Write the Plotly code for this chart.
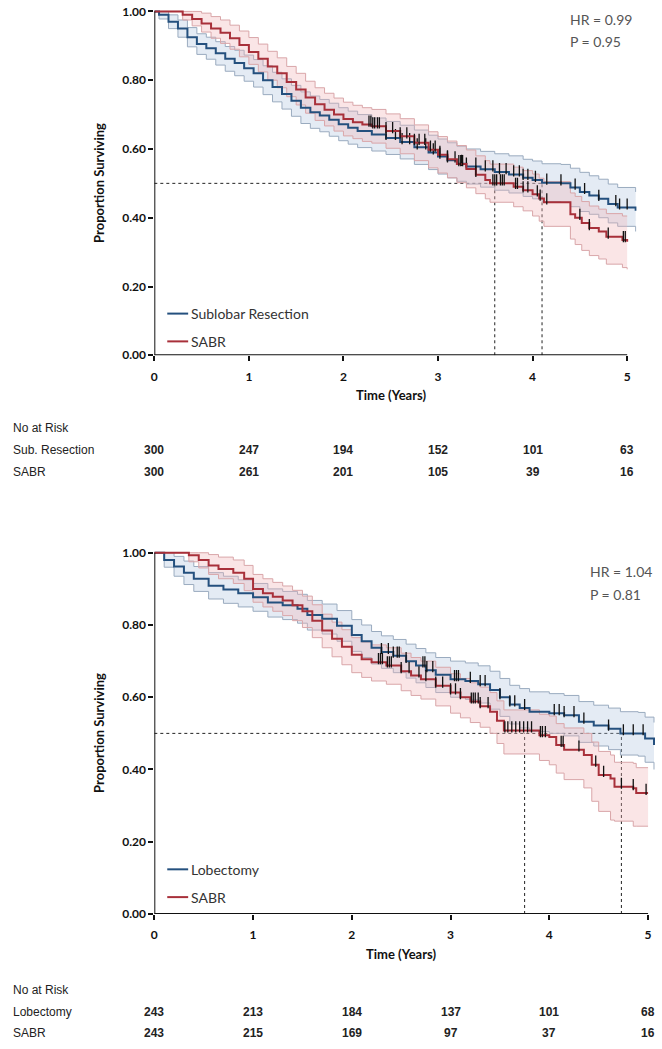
import numpy as np
import plotly.graph_objects as go

# ---------------- DATA ----------------
# Top panel: Sublobar Resection vs SABR
T_SUB = [0, 0.05, 0.15, 0.25, 0.35, 0.45, 0.55, 0.65, 0.75, 0.85,
         0.95, 1.05, 1.15, 1.25, 1.35, 1.45, 1.55, 1.65, 1.75, 1.85,
         1.95, 2.05, 2.15, 2.3, 2.45, 2.6, 2.75, 2.9, 3.0, 3.1,
         3.2, 3.3, 3.45, 3.6, 3.75, 3.9, 4.0, 4.1, 4.3, 4.4,
         4.5, 4.6, 4.7, 4.8, 4.9, 5.09]
S_SUB = [1.0, 0.99, 0.97, 0.95, 0.925, 0.905, 0.893, 0.878, 0.862, 0.85,
         0.835, 0.82, 0.80, 0.78, 0.76, 0.74, 0.72, 0.707, 0.697, 0.685,
         0.672, 0.662, 0.652, 0.642, 0.632, 0.62, 0.605, 0.59, 0.578, 0.567,
         0.557, 0.549, 0.541, 0.533, 0.526, 0.516, 0.51, 0.502, 0.50, 0.488,
         0.475, 0.465, 0.455, 0.44, 0.43, 0.42]
HI_SUB = [1.0, 1.0, 0.99, 0.975, 0.953, 0.935, 0.925, 0.912, 0.898, 0.887,
          0.873, 0.86, 0.842, 0.823, 0.804, 0.785, 0.766, 0.754, 0.744, 0.733,
          0.72, 0.71, 0.7, 0.69, 0.68, 0.669, 0.655, 0.64, 0.629, 0.618,
          0.608, 0.6, 0.593, 0.586, 0.58, 0.57, 0.565, 0.557, 0.555, 0.544,
          0.532, 0.522, 0.512, 0.498, 0.488, 0.475]
LO_SUB = [1.0, 0.978, 0.95, 0.925, 0.897, 0.875, 0.861, 0.844, 0.826, 0.813,
          0.797, 0.78, 0.758, 0.737, 0.716, 0.695, 0.674, 0.66, 0.65, 0.637,
          0.624, 0.614, 0.604, 0.594, 0.584, 0.571, 0.555, 0.54, 0.527, 0.516,
          0.506, 0.498, 0.489, 0.48, 0.472, 0.462, 0.455, 0.447, 0.445, 0.432,
          0.418, 0.41, 0.4, 0.385, 0.375, 0.36]
C_SUB = [2.45, 2.55, 2.62, 2.7, 2.78, 2.87, 2.95, 3.02, 3.1, 3.18, 3.25, 3.3,
         3.4, 3.5, 3.58, 3.65, 3.72, 3.8, 3.86, 3.9, 3.95, 4.03, 4.15, 4.3,
         4.45, 4.55, 4.7, 4.88, 4.92, 5.0]

T_SABR1 = [0, 0.3, 0.4, 0.5, 0.6, 0.7, 0.8, 0.9, 1.0, 1.1,
           1.2, 1.3, 1.4, 1.5, 1.6, 1.7, 1.8, 1.9, 2.0, 2.1,
           2.2, 2.3, 2.45, 2.6, 2.75, 2.9, 3.0, 3.1, 3.2, 3.3,
           3.4, 3.5, 3.55, 3.8, 3.9, 4.0, 4.07, 4.12, 4.4, 4.45,
           4.52, 4.6, 4.7, 4.78, 4.95, 5.0]
S_SABR1 = [1.0, 0.99, 0.978, 0.965, 0.95, 0.938, 0.922, 0.902, 0.882, 0.862,
           0.84, 0.82, 0.795, 0.773, 0.75, 0.73, 0.714, 0.7, 0.687, 0.678,
           0.671, 0.666, 0.652, 0.637, 0.618, 0.598, 0.583, 0.57, 0.556, 0.542,
           0.525, 0.51, 0.50, 0.49, 0.48, 0.468, 0.456, 0.445, 0.41, 0.40,
           0.385, 0.37, 0.36, 0.345, 0.335, 0.33]
HI_SABR1 = [1.0, 1.0, 1.0, 0.995, 0.985, 0.975, 0.96, 0.943, 0.924, 0.905,
            0.884, 0.865, 0.84, 0.82, 0.797, 0.778, 0.762, 0.748, 0.736, 0.727,
            0.72, 0.715, 0.702, 0.688, 0.67, 0.65, 0.636, 0.623, 0.61, 0.597,
            0.58, 0.566, 0.556, 0.547, 0.537, 0.527, 0.515, 0.505, 0.472, 0.462,
            0.447, 0.434, 0.425, 0.412, 0.405, 0.405]
LO_SABR1 = [1.0, 0.975, 0.958, 0.94, 0.922, 0.907, 0.89, 0.868, 0.846, 0.824,
            0.8, 0.778, 0.752, 0.728, 0.704, 0.683, 0.667, 0.652, 0.638, 0.63,
            0.622, 0.617, 0.602, 0.586, 0.566, 0.545, 0.53, 0.516, 0.502, 0.487,
            0.47, 0.455, 0.445, 0.432, 0.42, 0.405, 0.39, 0.375, 0.338, 0.322,
            0.305, 0.29, 0.28, 0.265, 0.255, 0.25]
C_SABR1 = [2.27, 2.29, 2.31, 2.33, 2.36, 2.38, 2.45, 2.52, 2.6, 2.67, 2.75,
           2.8, 2.86, 2.92, 2.97, 3.02, 3.1, 3.22, 3.24, 3.26, 3.4, 3.58, 3.6,
           3.62, 3.66, 3.68, 3.7, 3.82, 3.84, 3.9, 3.95, 4.05, 4.08, 4.15,
           4.5, 4.6, 4.8, 4.96, 4.98]

# Bottom panel: Lobectomy vs SABR
T_LOB = [0, 0.1, 0.2, 0.3, 0.4, 0.55, 0.7, 0.85, 1.0, 1.15,
         1.3, 1.45, 1.55, 1.7, 1.85, 2.0, 2.1, 2.2, 2.3, 2.42,
         2.55, 2.65, 2.75, 2.85, 3.0, 3.15, 3.28, 3.4, 3.5, 3.6,
         3.7, 3.8, 4.0, 4.15, 4.3, 4.45, 4.6, 4.72, 4.9, 4.97, 5.06]
S_LOB = [1.0, 0.98, 0.962, 0.945, 0.928, 0.909, 0.898, 0.888, 0.877, 0.862,
         0.855, 0.845, 0.828, 0.817, 0.798, 0.772, 0.755, 0.737, 0.725, 0.715,
         0.70, 0.688, 0.675, 0.662, 0.65, 0.645, 0.636, 0.62, 0.60, 0.58,
         0.57, 0.56, 0.556, 0.55, 0.532, 0.522, 0.513, 0.50, 0.50, 0.486, 0.468]
HI_LOB = [1.0, 1.0, 0.99, 0.977, 0.962, 0.945, 0.935, 0.925, 0.915, 0.9,
          0.893, 0.885, 0.868, 0.858, 0.84, 0.815, 0.8, 0.782, 0.77, 0.76,
          0.747, 0.735, 0.723, 0.71, 0.7, 0.695, 0.687, 0.672, 0.652, 0.633,
          0.624, 0.615, 0.61, 0.605, 0.588, 0.578, 0.57, 0.56, 0.558, 0.545, 0.53]
LO_LOB = [1.0, 0.96, 0.935, 0.912, 0.893, 0.872, 0.86, 0.85, 0.838, 0.822,
          0.815, 0.805, 0.786, 0.775, 0.755, 0.727, 0.71, 0.692, 0.68, 0.668,
          0.653, 0.64, 0.627, 0.613, 0.6, 0.594, 0.584, 0.567, 0.547, 0.526,
          0.515, 0.505, 0.5, 0.493, 0.475, 0.465, 0.455, 0.44, 0.437, 0.42, 0.40]
C_LOB = [2.3, 2.37, 2.42, 2.46, 2.48, 2.55, 2.72, 2.74, 2.76, 2.82, 3.04,
         3.06, 3.08, 3.2, 3.3, 3.35, 3.5, 3.6, 3.65, 3.75, 4.05, 4.1, 4.15,
         4.25, 4.35, 4.6, 4.75, 4.85, 4.95]

T_SABR2 = [0, 0.35, 0.45, 0.55, 0.65, 0.8, 0.91, 1.0, 1.1, 1.2,
           1.3, 1.4, 1.5, 1.6, 1.7, 1.8, 1.9, 2.0, 2.1, 2.2,
           2.35, 2.5, 2.6, 2.7, 2.85, 3.0, 3.1, 3.2, 3.3, 3.4,
           3.47, 3.54, 3.9, 4.0, 4.07, 4.15, 4.35, 4.43, 4.5, 4.62,
           4.66, 4.85, 4.88, 5.0]
S_SABR2 = [1.0, 0.993, 0.98, 0.965, 0.955, 0.945, 0.928, 0.9, 0.888, 0.878,
           0.868, 0.855, 0.838, 0.812, 0.785, 0.762, 0.74, 0.718, 0.705, 0.697,
           0.688, 0.672, 0.66, 0.65, 0.632, 0.613, 0.6, 0.588, 0.575, 0.56,
           0.535, 0.508, 0.495, 0.49, 0.468, 0.455, 0.44, 0.413, 0.385, 0.375,
           0.352, 0.348, 0.335, 0.335]
HI_SABR2 = [1.0, 1.0, 1.0, 0.995, 0.988, 0.98, 0.965, 0.94, 0.928, 0.918,
            0.908, 0.896, 0.88, 0.856, 0.83, 0.808, 0.787, 0.765, 0.753, 0.745,
            0.737, 0.722, 0.71, 0.7, 0.683, 0.665, 0.652, 0.64, 0.628, 0.613,
            0.59, 0.565, 0.553, 0.548, 0.527, 0.515, 0.5, 0.476, 0.45, 0.44,
            0.42, 0.417, 0.405, 0.405]
LO_SABR2 = [1.0, 0.975, 0.958, 0.94, 0.928, 0.915, 0.895, 0.863, 0.85, 0.838,
            0.826, 0.812, 0.793, 0.765, 0.737, 0.712, 0.69, 0.668, 0.655, 0.645,
            0.636, 0.618, 0.605, 0.595, 0.576, 0.556, 0.543, 0.53, 0.517, 0.5,
            0.472, 0.443, 0.425, 0.413, 0.39, 0.372, 0.349, 0.312, 0.284, 0.26,
            0.257, 0.243, 0.243, 0.243]
C_SABR2 = [2.27, 2.29, 2.31, 2.36, 2.38, 2.4, 2.5, 2.58, 2.68, 2.75, 2.85,
           2.92, 3.0, 3.05, 3.1, 3.21, 3.23, 3.25, 3.28, 3.3, 3.38, 3.55, 3.58,
           3.62, 3.66, 3.7, 3.74, 3.78, 3.82, 3.91, 3.93, 3.96, 4.12, 4.14,
           4.3, 4.47, 4.55, 4.73, 4.85, 4.98]

MEDIANS_TOP = [3.6, 4.1]
MEDIANS_BOT = [3.75, 4.73]

RISK_TIMES = [0, 1, 2, 3, 4, 5]
RISK_SUB = [300, 247, 194, 152, 101, 63]
RISK_SABR1 = [300, 261, 201, 105, 39, 16]
RISK_LOB = [243, 213, 184, 137, 101, 68]
RISK_SABR2 = [243, 215, 169, 97, 37, 16]

STATS_TOP = ["HR = 0.99", "P = 0.95"]
STATS_BOT = ["HR = 1.04", "P = 0.81"]

# ---------------- STYLE ----------------
W, H = 662, 1049
BLUE = "#24507e"
RED = "#a8303a"
BLUE_EDGE = "#9aabbf"
RED_EDGE = "#d9a6a9"
BLUE_FILL = "rgba(176,196,222,0.34)"
RED_FILL = "rgba(240,180,182,0.34)"
TICKFONT = dict(family="Lato, Open Sans, sans-serif", size=12, color="#111", weight="bold")
TXT = "Lato, Open Sans, sans-serif"
TABLEFONT = "Liberation Sans Narrow, Arial Narrow, Liberation Sans, Arial, sans-serif"


def px_x(p):
    return p / W


def px_y(p):
    return 1 - p / H


def step_at(ts, ss, t):
    i = int(np.searchsorted(np.asarray(ts), t, side="right")) - 1
    return ss[max(i, 0)]


fig = go.Figure()

PANELS = [
    dict(xa="x", ya="y", x0=152, x5=627, y1=10.5, y0=357),
    dict(xa="x2", ya="y2", x0=152, x5=648, y1=556, y0=920),
]
XMAX, YMAX = 5.1, 1.02


def add_band(xa, ya, t, hi, lo, edge, fill):
    fig.add_trace(go.Scatter(x=t, y=hi, mode="lines", line=dict(color=edge, width=1, shape="hv"),
                             xaxis=xa, yaxis=ya, hoverinfo="skip", showlegend=False))
    fig.add_trace(go.Scatter(x=t, y=lo, mode="lines", line=dict(color=edge, width=1, shape="hv"),
                             fill="tonexty", fillcolor=fill,
                             xaxis=xa, yaxis=ya, hoverinfo="skip", showlegend=False))


def add_line(xa, ya, t, s, cens, col):
    fig.add_trace(go.Scatter(x=t, y=s, mode="lines", line=dict(color=col, width=2, shape="hv"),
                             xaxis=xa, yaxis=ya, showlegend=False))
    cy = [step_at(t, s, c) + 0.01 for c in cens]
    fig.add_trace(go.Scatter(x=cens, y=cy, mode="markers",
                             marker=dict(symbol="line-ns", size=8, line=dict(color="#111", width=1.3)),
                             xaxis=xa, yaxis=ya, showlegend=False))


add_band("x", "y", T_SUB, HI_SUB, LO_SUB, BLUE_EDGE, BLUE_FILL)
add_band("x", "y", T_SABR1, HI_SABR1, LO_SABR1, RED_EDGE, RED_FILL)
add_line("x", "y", T_SUB, S_SUB, C_SUB, BLUE)
add_line("x", "y", T_SABR1, S_SABR1, C_SABR1, RED)
add_band("x2", "y2", T_LOB, HI_LOB, LO_LOB, BLUE_EDGE, BLUE_FILL)
add_band("x2", "y2", T_SABR2, HI_SABR2, LO_SABR2, RED_EDGE, RED_FILL)
add_line("x2", "y2", T_LOB, S_LOB, C_LOB, BLUE)
add_line("x2", "y2", T_SABR2, S_SABR2, C_SABR2, RED)

layout = dict(width=W, height=H, margin=dict(l=0, r=0, t=0, b=0),
              paper_bgcolor="white", plot_bgcolor="white", showlegend=False)

shapes, annos = [], []
for k, P in enumerate(PANELS):
    xs = "" if k == 0 else "2"
    pxyr = (P["x5"] - P["x0"]) / 5.0
    pxun = (P["y0"] - P["y1"])
    dom_x = [px_x(P["x0"]), px_x(P["x0"] + XMAX * pxyr)]
    dom_y = [px_y(P["y0"]), px_y(P["y0"] - YMAX * pxun)]
    layout["xaxis" + xs] = dict(domain=dom_x, range=[0, XMAX], anchor="y" + xs,
                                tickvals=RISK_TIMES, ticks="outside", ticklen=5, tickwidth=1.5,
                                tickcolor="#111", showline=False, showgrid=False, zeroline=False,
                                tickfont=TICKFONT, ticklabelstandoff=5)
    layout["yaxis" + xs] = dict(domain=dom_y, range=[0, YMAX], anchor="x" + xs,
                                tickvals=[0, 0.2, 0.4, 0.6, 0.8, 1.0], tickformat=".2f",
                                ticks="outside", ticklen=5, tickwidth=1.5, tickcolor="#111",
                                showline=False, showgrid=False, zeroline=False, tickfont=TICKFONT)
    xr, yr = P["xa"], P["ya"]
    shapes.append(dict(type="line", xref=xr, yref=yr, x0=0, x1=5, y0=0, y1=0,
                       line=dict(color="#111", width=2), layer="above"))
    shapes.append(dict(type="line", xref=xr, yref=yr, x0=0, x1=0, y0=0, y1=1,
                       line=dict(color="#111", width=2), layer="above"))
    meds = MEDIANS_TOP if k == 0 else MEDIANS_BOT
    shapes.append(dict(type="line", xref=xr, yref=yr, x0=0, x1=max(meds), y0=0.5, y1=0.5,
                       line=dict(color="#222", width=1, dash="3px,3px"), layer="below"))
    for m in meds:
        shapes.append(dict(type="line", xref=xr, yref=yr, x0=m, x1=m, y0=0, y1=0.5,
                           line=dict(color="#222", width=1, dash="3px,3px"), layer="below"))
    ymid = (P["y0"] + P["y1"]) / 2
    annos.append(dict(text="Proportion Surviving", xref="paper", yref="paper", x=px_x(97), y=px_y(ymid),
                      xanchor="center", yanchor="middle", textangle=-90, showarrow=False,
                      font=dict(family=TXT, size=13, color="#111", weight="bold")))
    annos.append(dict(text="Time (Years)", xref=xr, yref="paper", x=2.5,
                      y=px_y(P["y0"] + 40), xanchor="center", yanchor="middle", showarrow=False,
                      font=dict(family=TXT, size=13, color="#111", weight="bold")))

LEG = [("Sublobar Resection", BLUE, 315), ("SABR", RED, 343),
       ("Lobectomy", BLUE, 875), ("SABR", RED, 903)]
for name, col, yy in LEG:
    shapes.append(dict(type="line", xref="paper", yref="paper", x0=px_x(165), x1=px_x(186),
                       y0=px_y(yy), y1=px_y(yy), line=dict(color=col, width=2)))
    annos.append(dict(text=name, xref="paper", yref="paper", x=px_x(187), y=px_y(yy),
                      xanchor="left", yanchor="middle", showarrow=False,
                      font=dict(family=TXT, size=14, color="#333")))

for lines, ys, xx in [(STATS_TOP, [19, 41], 568), (STATS_BOT, [575, 598], 588)]:
    for txt, yy in zip(lines, ys):
        annos.append(dict(text=txt, xref="paper", yref="paper", x=px_x(xx),
                          y=px_y(yy), xanchor="left", yanchor="middle", showarrow=False,
                          font=dict(family=TXT, size=14, color="#555")))

TABLES = [("x", [("No at Risk", None, 430), ("Sub. Resection", RISK_SUB, 452), ("SABR", RISK_SABR1, 475)]),
          ("x2", [("No at Risk", None, 997), ("Lobectomy", RISK_LOB, 1019), ("SABR", RISK_SABR2, 1040)])]
for xr, rows in TABLES:
    for label, vals, yy in rows:
        annos.append(dict(text=label, xref="paper", yref="paper", x=px_x(8), y=px_y(yy),
                          xanchor="left", yanchor="middle", showarrow=False,
                          font=dict(family=TABLEFONT, size=12, color="#222")))
        if vals:
            for t, v in zip(RISK_TIMES, vals):
                annos.append(dict(text=str(v), xref=xr, yref="paper", x=t, y=px_y(yy),
                                  xanchor="center", yanchor="middle", showarrow=False,
                                  font=dict(family=TABLEFONT, size=12, color="#222", weight="bold")))

layout["shapes"] = shapes
layout["annotations"] = annos
fig.update_layout(**layout)
fig.write_html("out.html", config={"displayModeBar": False},
               post_script="document.body.style.margin='0';document.body.style.padding='0';"
                           "document.body.style.overflow='hidden';")
